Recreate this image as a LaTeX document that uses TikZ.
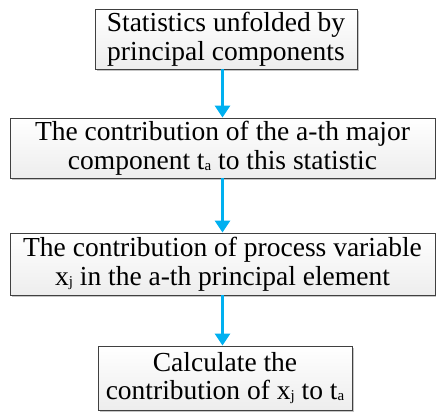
\documentclass[tikz,border=0pt]{standalone}
\usepackage{fontspec}
\setmainfont{Liberation Serif}
\usetikzlibrary{shadows,arrows.meta}
\newcommand{\lowsub}[1]{\raisebox{-1pt}{\fontsize{15}{15}\selectfont #1}}
\begin{document}
\begin{tikzpicture}[x=1pt,y=1pt,
  stepbox/.style={draw=black!75, line width=0.9pt, top color=white, bottom color=gray!14,
    drop shadow={shadow xshift=2pt, shadow yshift=-2pt, fill=black!45},
    align=center, font=\fontsize{27.5}{28.5}\selectfont, inner sep=0pt, minimum height=#1},
  flow/.style={draw={rgb,255:red,0;green,176;blue,240}, line width=3pt,
    -{Triangle[length=12pt,width=15pt]}}
]
\useasboundingbox (0,0) rectangle (436,413);
\node[stepbox=60pt, minimum width=262pt] (b1) at (226,374) {Statistics unfolded by\\principal components};
\node[stepbox=60pt, minimum width=425pt] (b2) at (222.5,265) {The contribution of the a-th major\\component t\lowsub{a} to this statistic};
\node[stepbox=62pt, minimum width=425pt] (b3) at (222.5,149) {The contribution of process variable\\x\lowsub{j} in the a-th principal element};
\node[stepbox=64pt, minimum width=254pt] (b4) at (225,35) {Calculate the\\contribution of x\lowsub{j} to t\lowsub{a}};
\draw[flow] (b1.south -| b2.north) -- (b2.north);
\draw[flow] (b2.south) -- (b3.north);
\draw[flow] (b3.south) -- (b4.north -| b3.south);
\end{tikzpicture}
\end{document}
